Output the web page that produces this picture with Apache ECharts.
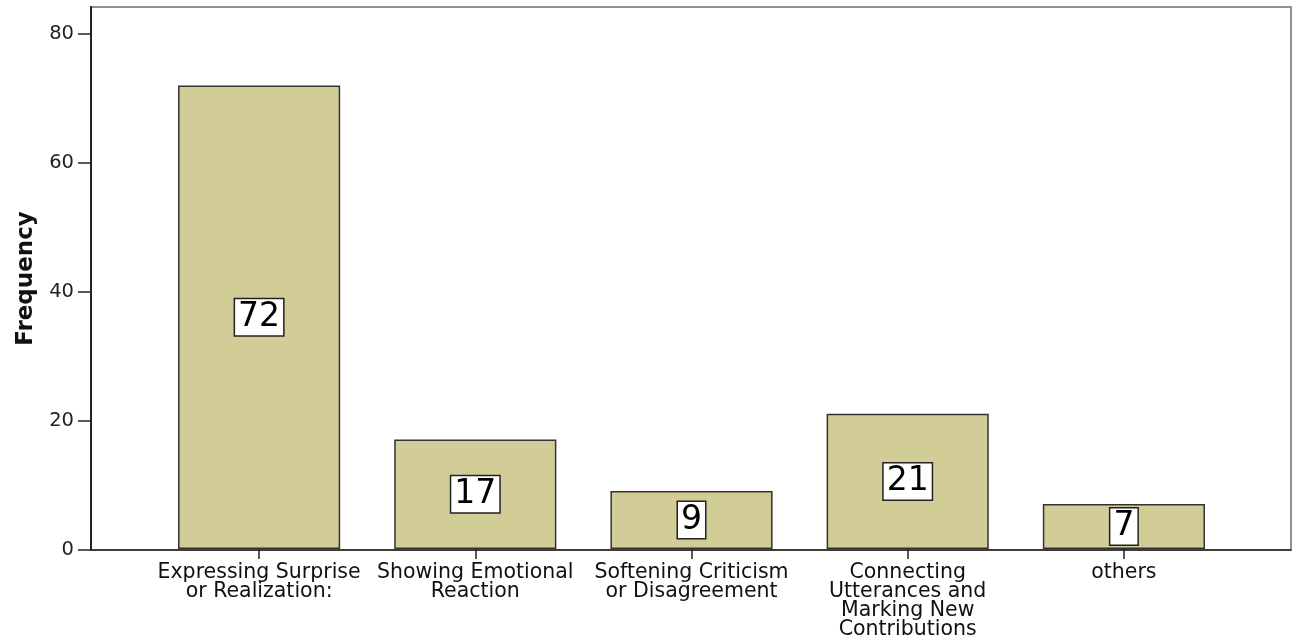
<!DOCTYPE html>
<html>
<head>
<meta charset="utf-8">
<title>Frequency of functions</title>
<script src="https://cdn.jsdelivr.net/npm/echarts@6/dist/echarts.min.js"></script>
<style>
  html, body { margin: 0; padding: 0; background: #fff; }
  #chart { width: 1292px; height: 640px; }
</style>
</head>
<body>
<div id="chart"></div>
<script>
// Categories (line breaks as shown under each bar)
const categories = [
  'Expressing Surprise\nor Realization:',
  'Showing Emotional\nReaction',
  'Softening Criticism\nor Disagreement',
  'Connecting\nUtterances and\nMarking New\nContributions',
  'others'
];
// Frequency per category
const frequencies = [72, 17, 9, 21, 7];
// Value-axis tick labels
const yTicks = [0, 20, 40, 60, 80];
const yMax = 84.2;

const FONT = '"DejaVu Sans", "Liberation Sans", Arial, sans-serif';
const INK = '#222';

const chart = echarts.init(document.getElementById('chart'), null, { renderer: 'canvas' });

chart.setOption({
  animation: false,
  backgroundColor: '#fff',
  grid: [
    // outer frame with the value axis
    { left: 91, right: 1, top: 7, bottom: 90, show: true, borderColor: '#6e6e6e', borderWidth: 1.5, containLabel: false },
    // inner band that holds the bars
    { left: 151, right: 60, top: 7, bottom: 90, containLabel: false }
  ],
  xAxis: [
    {
      gridIndex: 0, type: 'value', min: 0, max: 1,
      axisLine: { show: true, onZero: false, lineStyle: { color: INK, width: 1.5 } },
      axisTick: { show: false }, axisLabel: { show: false }, splitLine: { show: false }
    },
    {
      gridIndex: 1, type: 'category', data: categories,
      axisLine: { show: false },
      axisTick: { show: true, alignWithLabel: true, length: 10, lineStyle: { color: INK, width: 1.5 } },
      axisLabel: {
        interval: 0, margin: 14, color: '#111',
        fontFamily: FONT, fontSize: 20.5, lineHeight: 19, align: 'center'
      },
      splitLine: { show: false }
    }
  ],
  yAxis: [
    {
      gridIndex: 0, type: 'value', min: 0, max: yMax,
      name: 'Frequency', nameLocation: 'middle', nameGap: 53,
      nameTextStyle: { fontFamily: FONT, fontWeight: 'bold', fontSize: 23, color: '#111' },
      axisLine: { show: true, lineStyle: { color: INK, width: 2 } },
      axisTick: { show: true, inside: false, length: 13, customValues: yTicks, lineStyle: { color: INK, width: 1.5 } },
      axisLabel: { show: true, margin: 17, customValues: yTicks, fontFamily: FONT, fontSize: 19.5, color: '#222' },
      splitLine: { show: false }
    },
    {
      gridIndex: 1, type: 'value', min: 0, max: yMax, show: false,
      splitLine: { show: false }
    }
  ],
  series: [
    {
      type: 'bar',
      xAxisIndex: 1, yAxisIndex: 1,
      data: frequencies,
      barWidth: '75%',
      itemStyle: { color: '#d2cd96', borderColor: '#333', borderWidth: 1.5 },
      label: {
        show: true, position: 'inside',
        fontFamily: FONT, fontSize: 33, lineHeight: 35, color: '#000',
        backgroundColor: '#fff', borderColor: INK, borderWidth: 1.5,
        padding: [1, 3, 0, 3]
      }
    }
  ]
});
</script>
</body>
</html>
